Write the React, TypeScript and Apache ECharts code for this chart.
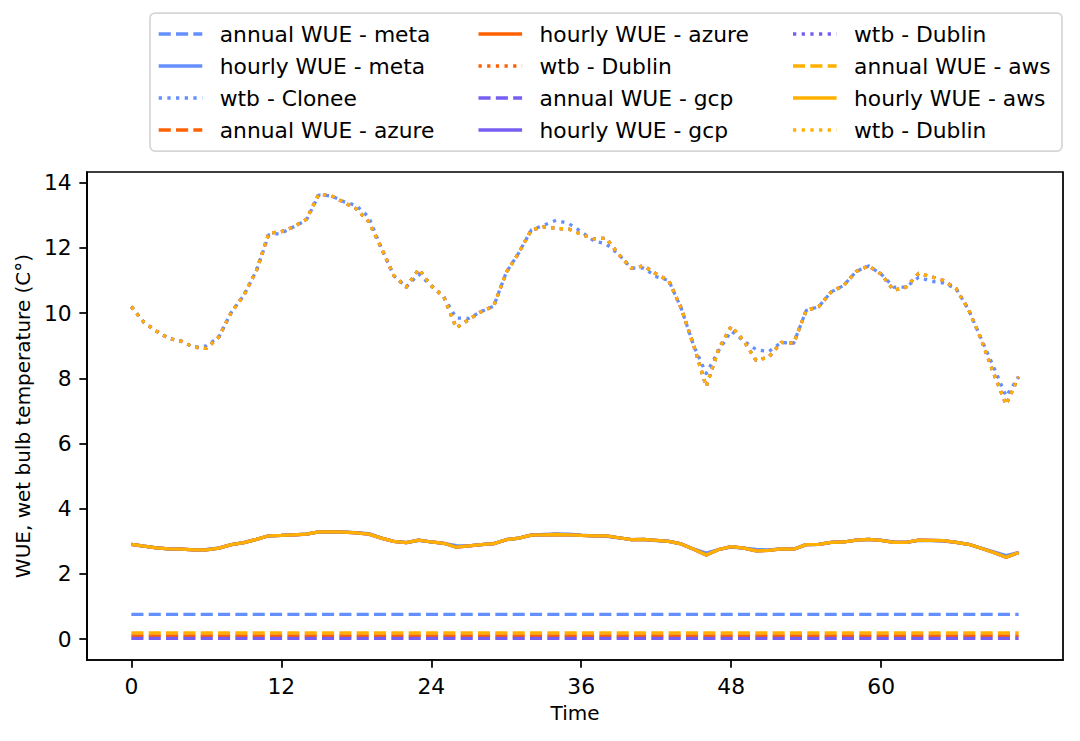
import React, { useEffect, useRef } from "react";
import * as echarts from "echarts";

// ---- data ----
const hours = [
  0, 1, 2, 3, 4, 5, 6, 7, 8, 9, 10, 11, 12, 13, 14, 15, 16, 17, 18, 19, 20, 21, 22, 23,
  24, 25, 26, 27, 28, 29, 30, 31, 32, 33, 34, 35, 36, 37, 38, 39, 40, 41, 42, 43, 44, 45, 46, 47,
  48, 49, 50, 51, 52, 53, 54, 55, 56, 57, 58, 59, 60, 61, 62, 63, 64, 65, 66, 67, 68, 69, 70, 71,
];

const wtbClonee = [
  10.2, 9.72, 9.45, 9.22, 9.14, 8.95, 9.0, 9.27, 10.03, 10.55, 11.3, 12.4,
  12.45, 12.65, 12.85, 13.62, 13.6, 13.42, 13.3, 12.95, 12.0, 11.15, 10.8, 11.2,
  10.84, 10.5, 9.85, 9.84, 10.05, 10.22, 11.25, 11.85, 12.55, 12.7, 12.85, 12.75,
  12.5, 12.22, 12.12, 11.8, 11.38, 11.38, 11.12, 11.0, 10.15, 9.0, 8.15, 8.85,
  9.45, 9.15, 8.88, 8.82, 9.1, 9.08, 10.08, 10.2, 10.65, 10.85, 11.28, 11.45,
  11.2, 10.8, 10.8, 11.1, 10.98, 10.92, 10.75, 10.1, 9.22, 8.35, 7.45, 8.05,
];

const wtbDublin = [
  10.2, 9.72, 9.45, 9.22, 9.14, 8.95, 8.92, 9.27, 10.03, 10.55, 11.3, 12.45,
  12.5, 12.65, 12.88, 13.65, 13.6, 13.4, 13.2, 12.8, 12.0, 11.15, 10.8, 11.35,
  10.84, 10.5, 9.55, 9.8, 10.05, 10.22, 11.25, 11.85, 12.55, 12.65, 12.6, 12.58,
  12.42, 12.28, 12.3, 11.8, 11.38, 11.45, 11.2, 11.0, 10.15, 9.0, 7.75, 8.9,
  9.6, 9.15, 8.55, 8.65, 9.1, 9.08, 10.08, 10.2, 10.65, 10.85, 11.28, 11.45,
  11.2, 10.7, 10.8, 11.22, 11.12, 11.0, 10.75, 10.1, 9.2, 8.15, 7.2, 8.05,
];

const hourlyMeta = [
  2.91, 2.85, 2.8, 2.77, 2.76, 2.74, 2.75, 2.79, 2.9, 2.96, 3.06, 3.17,
  3.18, 3.2, 3.22, 3.29, 3.29, 3.28, 3.27, 3.24, 3.1, 3.0, 2.96, 3.03,
  2.98, 2.94, 2.87, 2.86, 2.9, 2.93, 3.05, 3.1, 3.19, 3.21, 3.23, 3.22,
  3.19, 3.17, 3.15, 3.11, 3.05, 3.05, 3.02, 3.0, 2.92, 2.76, 2.64, 2.75,
  2.82, 2.79, 2.75, 2.74, 2.77, 2.76, 2.9, 2.91, 2.97, 2.98, 3.04, 3.06,
  3.03, 2.98, 2.97, 3.03, 3.02, 3.01, 2.97, 2.91, 2.79, 2.68, 2.56, 2.66,
];

const hourlyDublin = [
  2.91, 2.85, 2.8, 2.77, 2.76, 2.74, 2.74, 2.79, 2.9, 2.96, 3.06, 3.17,
  3.18, 3.2, 3.22, 3.29, 3.29, 3.28, 3.26, 3.22, 3.1, 3.0, 2.96, 3.04,
  2.98, 2.94, 2.82, 2.86, 2.9, 2.93, 3.05, 3.1, 3.19, 3.2, 3.21, 3.2,
  3.18, 3.17, 3.17, 3.11, 3.05, 3.06, 3.03, 3.0, 2.92, 2.76, 2.58, 2.75,
  2.84, 2.79, 2.71, 2.72, 2.77, 2.76, 2.9, 2.91, 2.97, 2.98, 3.04, 3.06,
  3.03, 2.97, 2.97, 3.04, 3.03, 3.02, 2.97, 2.91, 2.79, 2.66, 2.51, 2.66,
];

const annualMeta = 0.76;
const annualAzure = 0.1;
const annualGcp = 0.02;
const annualAws = 0.19;

const xTicks = [0, 12, 24, 36, 48, 60];
const yTicks = [0, 2, 4, 6, 8, 10, 12, 14];

const colors = {
  meta: "#648FFF",
  azure: "#FE6100",
  gcp: "#785EF0",
  aws: "#FFB000",
};

// ---- styling constants ----
const PX = 2.18; // px per pt
const FONT = "DejaVu Sans";
const FS = 10 * PX;
const LW = 1.5 * PX;
const DASHED = [3.7 * LW, 1.6 * LW];
const DOTTED = [1 * LW, 1.65 * LW];

type Entry = { name: string; color: string; dash: number[] | "solid"; data: number[][] };

const pair = (vals: number[]) => hours.map((h, i) => [h, vals[i]]);
const flat = (v: number) => hours.map((h) => [h, v]);

const entries: Entry[] = [
  { name: "annual WUE - meta", color: colors.meta, dash: DASHED, data: flat(annualMeta) },
  { name: "hourly WUE - meta", color: colors.meta, dash: "solid", data: pair(hourlyMeta) },
  { name: "wtb - Clonee", color: colors.meta, dash: DOTTED, data: pair(wtbClonee) },
  { name: "annual WUE - azure", color: colors.azure, dash: DASHED, data: flat(annualAzure) },
  { name: "hourly WUE - azure", color: colors.azure, dash: "solid", data: pair(hourlyDublin) },
  { name: "wtb - Dublin", color: colors.azure, dash: DOTTED, data: pair(wtbDublin) },
  { name: "annual WUE - gcp", color: colors.gcp, dash: DASHED, data: flat(annualGcp) },
  { name: "hourly WUE - gcp", color: colors.gcp, dash: "solid", data: pair(hourlyDublin) },
  { name: "wtb - Dublin", color: colors.gcp, dash: DOTTED, data: pair(wtbDublin) },
  { name: "annual WUE - aws", color: colors.aws, dash: DASHED, data: flat(annualAws) },
  { name: "hourly WUE - aws", color: colors.aws, dash: "solid", data: pair(hourlyDublin) },
  { name: "wtb - Dublin", color: colors.aws, dash: DOTTED, data: pair(wtbDublin) },
];

function buildLegend() {
  const em = FS;
  const colX = [158.7, 478.5, 793];
  const rowY = [34, 66, 98, 130];
  const els: any[] = [
    {
      type: "rect",
      shape: { x: 150, y: 13, width: 912, height: 138, r: 5 },
      style: { fill: "rgba(255,255,255,0.8)", stroke: "#d6d6d6", lineWidth: 1.75 },
      z: 10,
    },
  ];
  entries.forEach((e, i) => {
    const col = Math.floor(i / 4);
    const row = i % 4;
    const x = colX[col];
    const y = rowY[row];
    els.push({
      type: "line",
      shape: { x1: x, y1: y, x2: x + 2 * em, y2: y },
      style: {
        stroke: e.color,
        lineWidth: LW,
        lineDash: e.dash === "solid" ? null : e.dash,
        lineCap: "butt",
      },
      z: 11,
    });
    els.push({
      type: "text",
      x: x + 2.8 * em,
      y: y,
      style: {
        text: e.name,
        fontSize: FS,
        fontFamily: FONT,
        fill: "#000",
        verticalAlign: "middle",
        align: "left",
      },
      z: 11,
    });
  });
  return els;
}

export default function App() {
  const ref = useRef<HTMLDivElement>(null);
  useEffect(() => {
    if (!ref.current) return;
    const chart = echarts.init(ref.current, null, { renderer: "svg" });
    const axisText = { fontSize: FS, color: "#000", fontFamily: FONT };
    const option: any = {
      animation: false,
      backgroundColor: "#fff",
      grid: {
        left: 87,
        right: 17,
        top: 172,
        bottom: 81,
        show: true,
        borderColor: "#000",
        borderWidth: 0.8 * PX,
        backgroundColor: "transparent",
        containLabel: false,
      },
      xAxis: {
        type: "value",
        min: -3.55,
        max: 74.55,
        splitLine: { show: false },
        axisLine: { show: true, onZero: false, lineStyle: { color: "#000", width: 0.8 * PX } },
        axisTick: {
          show: true,
          length: 3.5 * PX,
          customValues: xTicks,
          lineStyle: { color: "#000", width: 0.8 * PX },
        },
        axisLabel: { ...axisText, customValues: xTicks, margin: 7 * PX },
        name: "Time",
        nameLocation: "middle",
        nameGap: 43,
        nameTextStyle: { ...axisText, fontSize: 20 },
      },
      yAxis: {
        type: "value",
        min: -0.64,
        max: 14.33,
        splitLine: { show: false },
        axisLine: { show: true, onZero: false, lineStyle: { color: "#000", width: 0.8 * PX } },
        axisTick: {
          show: true,
          length: 3.5 * PX,
          customValues: yTicks,
          lineStyle: { color: "#000", width: 0.8 * PX },
        },
        axisLabel: { ...axisText, customValues: yTicks, margin: 7 * PX },
        name: "WUE, wet bulb temperature (C°)",
        nameLocation: "middle",
        nameGap: 52,
        nameRotate: 90,
        nameTextStyle: { ...axisText, fontSize: 20 },
      },
      series: entries.map((e) => ({
        type: "line",
        name: e.name,
        data: e.data,
        showSymbol: false,
        symbol: "none",
        silent: true,
        clip: true,
        emphasis: { disabled: true },
        lineStyle: {
          color: e.color,
          width: LW,
          type: e.dash === "solid" ? "solid" : e.dash,
          cap: "butt",
          join: "round",
        },
      })),
      graphic: buildLegend(),
    };
    chart.setOption(option);
    return () => chart.dispose();
  }, []);
  return (
    <div
      ref={ref}
      style={{ position: "fixed", left: 0, top: 0, width: 1080, height: 741, background: "#fff" }}
    />
  );
}
